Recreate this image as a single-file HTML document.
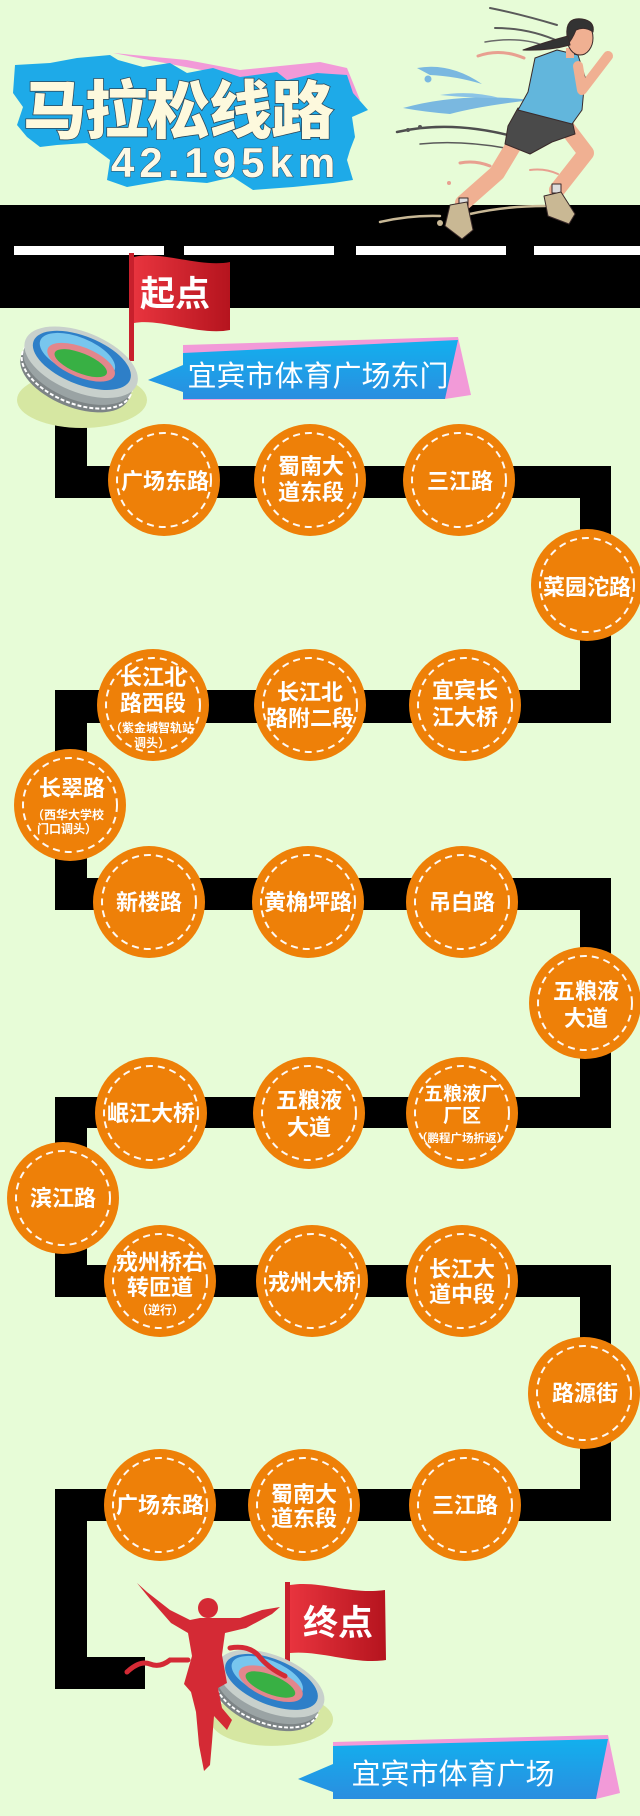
<!DOCTYPE html>
<html><head><meta charset="utf-8"><style>
html,body{margin:0;padding:0;background:#e7fcd7;}
svg{display:block;}
text{font-family:"Liberation Sans","Noto Sans CJK SC",sans-serif;}
.c{fill:#fff;font-weight:bold;text-anchor:middle;font-size:22px;}
.s{fill:#fff;font-weight:bold;text-anchor:middle;font-size:12px;}
</style></head><body>
<svg width="640" height="1816" viewBox="0 0 640 1816" xmlns="http://www.w3.org/2000/svg">
<defs>
<linearGradient id="fr" x1="0" x2="1" y1="0" y2="0"><stop offset="0" stop-color="#e8343e"/><stop offset="1" stop-color="#b5141e"/></linearGradient>
<linearGradient id="bl" x1="0" x2="0" y1="0" y2="1"><stop offset="0" stop-color="#12b0ee"/><stop offset="1" stop-color="#2a8ee0"/></linearGradient>
<g id="stad">
<ellipse cx="82" cy="400" rx="65" ry="28" fill="#d6e7a2"/>
<g transform="rotate(22 80 365)">
<ellipse cx="80" cy="378" rx="58" ry="30" fill="#7d8486"/>
<ellipse cx="80" cy="374" rx="58" ry="30" fill="none" stroke="#fff" stroke-width="2" stroke-dasharray="4 2"/>
<ellipse cx="80" cy="370" rx="58" ry="30" fill="#9aa3a4"/>
<ellipse cx="80" cy="362" rx="60" ry="30" fill="#c8d0cc"/>
<ellipse cx="80" cy="360" rx="52" ry="24" fill="#2e7fc8"/>
<ellipse cx="74" cy="357" rx="40" ry="18" fill="#78c6ee"/>
<ellipse cx="80" cy="362" rx="36" ry="15" fill="#e3868c"/>
<ellipse cx="80" cy="363" rx="28" ry="10" fill="#38b044"/>
</g>
</g>
</defs>

<!-- road -->
<rect x="0" y="205" width="640" height="103" fill="#000"/>
<rect x="14" y="246" width="150" height="9" fill="#fff"/>
<rect x="184" y="246" width="150" height="9" fill="#fff"/>
<rect x="356" y="246" width="150" height="9" fill="#fff"/>
<rect x="534" y="246" width="106" height="9" fill="#fff"/>

<g fill="#000">
<rect x="55" y="420" width="32" height="78"/>
<rect x="55" y="466" width="556" height="32"/>
<rect x="580" y="466" width="31" height="257"/>
<rect x="55" y="690" width="556" height="33"/>
<rect x="55" y="690" width="32" height="220"/>
<rect x="55" y="878" width="556" height="32"/>
<rect x="580" y="878" width="31" height="250"/>
<rect x="55" y="1097" width="556" height="31"/>
<rect x="55" y="1097" width="32" height="200"/>
<rect x="55" y="1265" width="556" height="32"/>
<rect x="580" y="1265" width="31" height="256"/>
<rect x="55" y="1489" width="556" height="32"/>
<rect x="55" y="1489" width="32" height="200"/>
<rect x="55" y="1657" width="90" height="32"/>
</g>

<!-- title -->
<polygon points="113,53 187,60 240,70 320,62 347,68 360,100 347,98" fill="#f29ad8"/>
<polygon fill="#1eaae8" points="15,65 50,63 77,58 110,55 118,60 143,67 170,63 187,73 213,68 240,77 277,72 287,80 317,73 347,75 353,93 368,110 352,117 355,137 350,150 347,160 353,180 333,183 293,187 253,190 233,177 207,183 167,180 127,187 107,180 110,160 87,143 57,145 40,147 27,137 17,125 23,107 13,93"/>
<text x="23" y="133" font-size="63" font-weight="900" fill="#fdf9dd" stroke="#2c4658" stroke-width="1.5" paint-order="stroke" letter-spacing="-1">马拉松线路</text>
<text x="111" y="177" font-size="42" font-weight="bold" fill="#fdf9e6" stroke="#2c4658" stroke-width="1" paint-order="stroke" letter-spacing="5" style="font-family:'Liberation Sans',sans-serif">42.195km</text>

<!-- runner wisps -->
<g fill="none" stroke-linecap="round">
<path d="M490 8 Q520 14 557 25" stroke="#5a5a5a" stroke-width="2"/>
<path d="M495 28 Q530 28 560 42" stroke="#5a5a5a" stroke-width="2"/>
<path d="M485 42 Q520 36 545 46" stroke="#6a6a6a" stroke-width="1.5"/>
<path d="M478 56 Q500 48 524 58" stroke="#e8a090" stroke-width="3"/>
<path d="M397 132 Q450 120 512 136" stroke="#4e4e4e" stroke-width="2.5"/>
<path d="M420 144 Q460 140 505 148" stroke="#5a5a5a" stroke-width="1.5"/>
<path d="M460 163 Q475 160 490 166" stroke="#e8a090" stroke-width="3"/>
<path d="M530 170 Q545 168 558 174" stroke="#e8a090" stroke-width="2"/>
<path d="M380 222 Q410 215 440 216 M470 214 Q505 206 545 206" stroke="#c8b896" stroke-width="2.5"/>
</g>
<path d="M417 68 Q450 62 482 84 Q455 76 430 75 Z" fill="#7ab8e0"/>
<path d="M403 108 Q460 92 532 100 Q480 106 450 114 Q425 112 403 108 Z" fill="#7ab8e0"/>
<path d="M440 95 Q470 90 500 98 Q470 98 440 95 Z" fill="#8cc4e6"/>
<circle cx="428" cy="79" r="3.5" fill="#7ab8e0"/>
<circle cx="408" cy="130" r="2" fill="#555"/>
<circle cx="420" cy="127" r="2" fill="#555"/>
<circle cx="449" cy="183" r="2" fill="#e8a090"/>
<circle cx="468" cy="232" r="2" fill="#c8b896"/>
<circle cx="440" cy="223" r="3" fill="#c8b896"/>

<!-- runner body -->
<g stroke="#3a2a2a" stroke-width="1" stroke-linecap="round" stroke-linejoin="round">
<path d="M515 143 L497 173 L463 203" fill="none" stroke="#f0b092" stroke-width="16"/>
<path d="M567 128 L586 153 L557 190" fill="none" stroke="#f0b092" stroke-width="16"/>
<path d="M540 62 L536 84" fill="none" stroke="#e8a488" stroke-width="10"/>
<polygon points="518,108 572,120 575,134 552,142 530,154 505,144 508,126" fill="#4a4a4a"/>
<polygon points="535,58 557,50 578,55 585,77 582,110 572,124 518,110 528,92" fill="#62b6dc"/>
<path d="M578 66 L582 90 L608 56" fill="none" stroke="#f0b092" stroke-width="10"/>
<rect x="566" y="48" width="8" height="10" fill="#f0b092" stroke="none"/>
<ellipse cx="580" cy="38" rx="13" ry="17" fill="#f0b092"/>
<path d="M567 36 Q565 17 582 19 Q595 21 593 32 Q585 26 576 30 Q572 40 567 45 Z" fill="#333"/>
<path d="M568 36 Q545 42 523 50 Q548 51 570 45 Z" fill="#333"/>
<rect x="459" y="198" width="9" height="9" fill="#ddd"/>
<rect x="552" y="184" width="9" height="9" fill="#ddd"/>
<polygon points="450,205 467,202 473,230 462,239 445,226" fill="#c9b894"/>
<polygon points="544,196 561,192 575,214 569,224 548,216" fill="#c9b894"/>
</g>

<!-- start flag + stadium -->
<rect x="129" y="253" width="5" height="108" fill="#c8202c"/>
<path d="M134 257 C160 250 200 268 230 262 L230 330 C200 336 160 318 134 323 Z" fill="url(#fr)"/>
<text x="175" y="306" font-size="35" font-weight="bold" fill="#fff" text-anchor="middle">起点</text>
<use href="#stad"/>

<!-- start banner -->
<polygon points="183,345 458,337 471,395 445,399 183,400" fill="#f29ad8"/>
<polygon points="183,353 458,340 445,399 183,399 183,392 148,380 183,365" fill="url(#bl)"/>
<text x="318" y="386" font-size="29" fill="#fff" text-anchor="middle">宜宾市体育广场东门</text>

<!-- circles -->
<g fill="#ee8008">
<circle cx="164" cy="480" r="56"/><circle cx="310" cy="480" r="56"/><circle cx="459" cy="480" r="56"/>
<circle cx="587" cy="585" r="56"/>
<circle cx="153" cy="705" r="56"/><circle cx="310" cy="705" r="56"/><circle cx="465" cy="705" r="56"/>
<circle cx="70" cy="805" r="56"/>
<circle cx="149" cy="902" r="56"/><circle cx="308" cy="902" r="56"/><circle cx="462" cy="902" r="56"/>
<circle cx="585" cy="1003" r="56"/>
<circle cx="151" cy="1113" r="56"/><circle cx="309" cy="1113" r="56"/><circle cx="462" cy="1113" r="56"/>
<circle cx="63" cy="1198" r="56"/>
<circle cx="160" cy="1281" r="56"/><circle cx="312" cy="1281" r="56"/><circle cx="462" cy="1281" r="56"/>
<circle cx="584" cy="1393" r="56"/>
<circle cx="160" cy="1505" r="56"/><circle cx="304" cy="1505" r="56"/><circle cx="465" cy="1505" r="56"/>
</g>
<g fill="none" stroke="#fff" stroke-width="2" stroke-dasharray="7 5" opacity="0.95">
<circle cx="164" cy="480" r="47"/><circle cx="310" cy="480" r="47"/><circle cx="459" cy="480" r="47"/>
<circle cx="587" cy="585" r="47"/>
<circle cx="153" cy="705" r="47"/><circle cx="310" cy="705" r="47"/><circle cx="465" cy="705" r="47"/>
<circle cx="70" cy="805" r="47"/>
<circle cx="149" cy="902" r="47"/><circle cx="308" cy="902" r="47"/><circle cx="462" cy="902" r="47"/>
<circle cx="585" cy="1003" r="47"/>
<circle cx="151" cy="1113" r="47"/><circle cx="309" cy="1113" r="47"/><circle cx="462" cy="1113" r="47"/>
<circle cx="63" cy="1198" r="47"/>
<circle cx="160" cy="1281" r="47"/><circle cx="312" cy="1281" r="47"/><circle cx="462" cy="1281" r="47"/>
<circle cx="584" cy="1393" r="47"/>
<circle cx="160" cy="1505" r="47"/><circle cx="304" cy="1505" r="47"/><circle cx="465" cy="1505" r="47"/>
</g>

<!-- circle labels -->
<text class="c" x="165" y="489">广场东路</text>
<text class="c" x="311" y="474">蜀南大</text><text class="c" x="311" y="500">道东段</text>
<text class="c" x="460" y="489">三江路</text>
<text class="c" x="587" y="595">菜园沱路</text>

<text class="c" x="153" y="685">长江北</text><text class="c" x="153" y="711">路西段</text>
<text class="s" x="152" y="732">（紫金城智轨站</text><text class="s" x="152" y="747">调头）</text>
<text class="c" x="310" y="700">长江北</text><text class="c" x="310" y="726">路附二段</text>
<text class="c" x="465" y="698">宜宾长</text><text class="c" x="465" y="725">江大桥</text>
<text class="c" x="72" y="796">长翠路</text>
<text class="s" x="68" y="819">（西华大学校</text><text class="s" x="67" y="833">门口调头）</text>

<text class="c" x="149" y="910">新楼路</text>
<text class="c" x="308" y="910">黄桷坪路</text>
<text class="c" x="462" y="910">吊白路</text>
<text class="c" x="586" y="999">五粮液</text><text class="c" x="586" y="1026">大道</text>

<text class="c" x="151" y="1121">岷江大桥</text>
<text class="c" x="309" y="1108">五粮液</text><text class="c" x="309" y="1135">大道</text>
<text class="c" x="462" y="1100" style="font-size:19px">五粮液厂</text><text class="c" x="462" y="1122" style="font-size:19px">厂区</text>
<text class="s" x="462" y="1142" style="font-size:11.5px">（鹏程广场折返）</text>
<text class="c" x="63" y="1206">滨江路</text>

<text class="c" x="160" y="1270">戎州桥右</text><text class="c" x="160" y="1295">转匝道</text>
<text class="s" x="160" y="1314">（逆行）</text>
<text class="c" x="312" y="1290">戎州大桥</text>
<text class="c" x="462" y="1277">长江大</text><text class="c" x="462" y="1302">道中段</text>
<text class="c" x="585" y="1401">路源街</text>

<text class="c" x="160" y="1513">广场东路</text>
<text class="c" x="304" y="1502">蜀南大</text><text class="c" x="304" y="1526">道东段</text>
<text class="c" x="465" y="1513">三江路</text>

<!-- finish -->
<rect x="285" y="1582" width="5" height="82" fill="#c8202c"/>
<path d="M290 1585 C320 1580 350 1595 385 1590 L386 1660 C355 1665 320 1650 290 1653 Z" fill="url(#fr)"/>
<text x="338" y="1635" font-size="35" font-weight="bold" fill="#fff" text-anchor="middle">终点</text>
<use href="#stad" transform="translate(194 1341) scale(0.946)"/>
<g fill="#d42a35">
<circle cx="208" cy="1608" r="10"/>
<polygon points="137,1583 147,1592 170,1610 190,1620 200,1618 218,1618 240,1618 262,1610 280,1607 272,1614 246,1628 225,1633 222,1655 227,1683 218,1688 222,1708 232,1720 227,1730 214,1716 212,1742 210,1765 204,1771 199,1745 196,1712 191,1692 184,1684 192,1656 188,1633 171,1623 150,1599"/>
</g>
<g fill="none" stroke="#d42a35" stroke-width="5" stroke-linecap="round">
<path d="M127 1672 Q140 1660 150 1664 Q160 1668 170 1660 L188 1660"/>
<path d="M230 1648 Q248 1645 258 1655 Q268 1668 285 1676"/>
</g>

<!-- finish banner -->
<polygon points="333,1742 608,1735 620,1793 596,1799 333,1799" fill="#f29ad8"/>
<polygon points="333,1746 608,1739 596,1799 333,1799 333,1792 298,1779 333,1764" fill="url(#bl)"/>
<text x="453" y="1784" font-size="29" fill="#fff" text-anchor="middle">宜宾市体育广场</text>
</svg>
</body></html>
